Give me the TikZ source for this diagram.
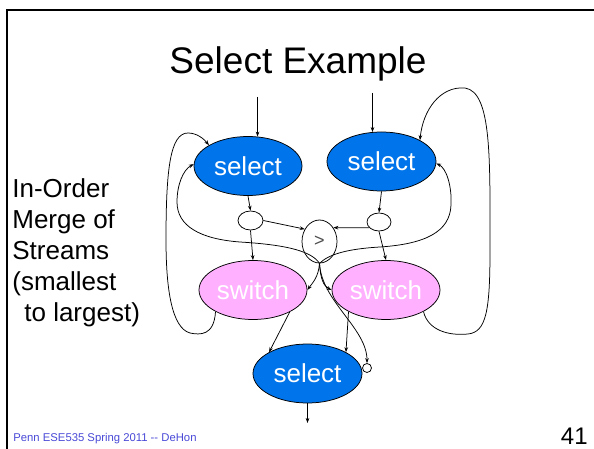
\documentclass[tikz,border=0pt]{standalone}
\usepackage{fontspec}
\setmainfont{Liberation Sans}
\usetikzlibrary{shapes.geometric,arrows.meta}
\definecolor{selblue}{RGB}{0,116,234}
\definecolor{swpink}{RGB}{255,176,255}
\definecolor{footblue}{RGB}{72,72,215}
\tikzset{
  sel/.style={ellipse,draw,fill=selblue,text=white,minimum width=108pt,minimum height=59pt,inner sep=0pt,font=\fontsize{26}{31}\selectfont},
  swi/.style={sel,fill=swpink},
  dup/.style={ellipse,draw,minimum width=25pt,minimum height=19pt,inner sep=0pt},
  arr/.style={-{Stealth[length=5pt,width=3.6pt]}}
}
\begin{document}
\begin{tikzpicture}[x=1pt,y=-1pt,line width=0.75pt]
\useasboundingbox (0,0) rectangle (594,449);
\draw[line width=2pt] (6.5,449) -- (6.5,10) -- (594,10);
\node[anchor=base,inner sep=0pt,font=\fontsize{37}{44}\selectfont] (title) at (298,74) {Select Example};
\node[anchor=north west,align=left,inner sep=0pt,font=\fontsize{26}{31}\selectfont] (note) at (12,178) {In-Order\\Merge of\\Streams\\(smallest\\\hspace*{12pt}to largest)};
\node[anchor=base west,inner sep=0pt,text=footblue,font=\fontsize{11.3}{13}\selectfont] (foot) at (13,441) {Penn ESE535 Spring 2011 -{}- DeHon};
\node[anchor=base east,inner sep=0pt,font=\fontsize{24}{28}\selectfont] (pnum) at (588,444) {41};
% selects, switches and the compare
\node[sel] (selA) at (248,166) {select};
\node[sel,minimum width=109pt] (selB) at (381.5,161.5) {select};
\node[swi] (sw1) at (253,290) {switch};
\node[swi] (sw2) at (386,290) {switch};
\node[sel,minimum width=109pt] (selC) at (307.5,373.5) {select};
\node[dup] (dupA) at (250.5,220.5) {};
\node[dup,minimum width=24pt,minimum height=18pt] (dupB) at (379,222) {};
\node[ellipse,draw,minimum width=35pt,minimum height=43pt,inner sep=0pt,text=black!70,font=\fontsize{18}{20}\selectfont] (cmp) at (319.5,241.5) {>};
\node[circle,draw,fill=white,minimum size=9pt,inner sep=0pt] (ctl) at (367,368) {};
% streams in and out
\draw[arr] (selA.72 |- 0,97) -- (selA.72);
\draw[arr] (selB.107 |- 0,93) -- (selB.107);
\draw[arr] (selC.south) -- (selC.south |- 0,423);
\draw[arr] (selA.south) -- (dupA.north);
\draw[arr] (selB.south) -- (dupB.north);
\draw[arr] (dupA.east) -- (cmp.140);
\draw[arr] (dupB.-150) -- (cmp.45);
\draw[arr] (dupA.south) -- (sw1.north);
\draw[arr] (dupB.south) -- (sw2.north);
\draw[arr] (sw1.-31) -- (selC.151);
\draw[arr] (sw2.-150) -- (selC.29);
% compare result
\draw[arr] (cmp.south) .. controls +(-1,14) and +(5,-7) .. (sw1.east);
\draw[arr] (cmp.south) .. controls +(1,16) and +(-8,-4) .. (sw2.west);
\draw[arr] (cmp.south) .. controls +(2,38) and +(0,-35) .. (ctl.north);
\draw[arr] (cmp.south) .. controls (312,252) and (290,245) .. (240,242) .. controls (200,239) and (177,226) .. (177,202) .. controls (177,185) and (183,170) .. (selA.178);
\draw[arr] (cmp.south) .. controls (328,255) and (345,249) .. (380,247) .. controls (425,244) and (450,232) .. (451,205) .. controls (452,185) and (446,168) .. (selB.-2);
% loops back to the selects
\draw[arr] (sw1.-150) .. controls (214,336) and (200,335) .. (190,333) .. controls (172,328) and (166,290) .. (166,240) .. controls (166,170) and (170,133) .. (188,133) .. controls (197,133) and (204,139) .. (selA.152);
\draw[arr] (sw2.-30) .. controls (428,330) and (448,336) .. (468,334) .. controls (486,332) and (490,312) .. (490,250) .. controls (490,160) and (492,92) .. (465,88) .. controls (440,86) and (423,110) .. (selB.29);
\end{tikzpicture}
\end{document}
